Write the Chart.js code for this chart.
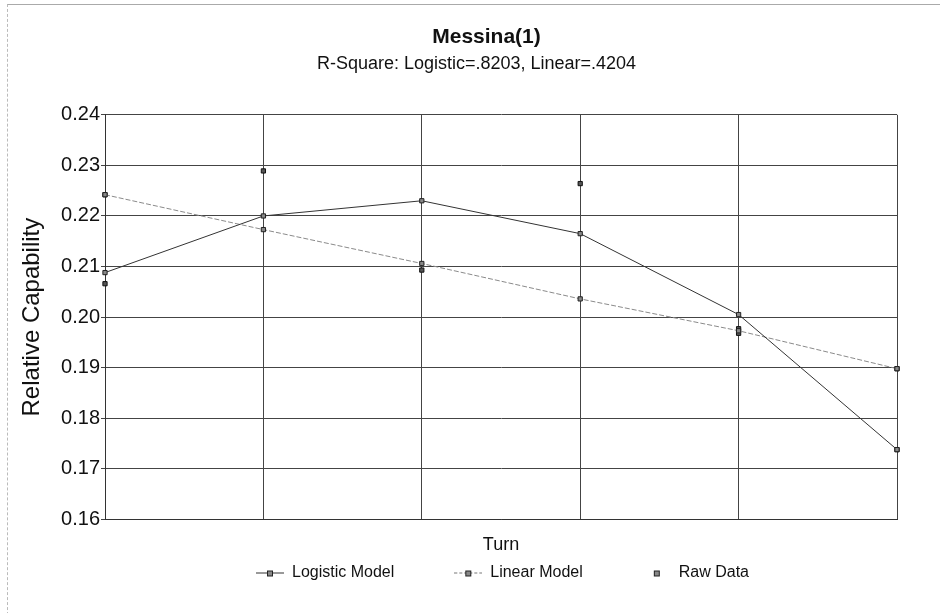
<!DOCTYPE html>
<html>
<head>
<meta charset="utf-8">
<script src="https://cdn.jsdelivr.net/npm/chart.js@4.4.1/dist/chart.umd.min.js"></script>
<style>
  html, body { margin: 0; padding: 0; background: #fff; }
  #wrap { position: relative; width: 940px; height: 613px; }
  #frame { position: absolute; left: 7px; top: 4px; width: 940px; height: 620px;
           border-left: 1px dashed #bbb; border-top: 1px solid #aaa; pointer-events: none; }
</style>
</head>
<body>
<div id="wrap">
  <canvas id="myChart" width="940" height="613"></canvas>
  <div id="frame"></div>
</div>
<script>
// turns on the x axis (no tick labels in the original)
var turns = ['1', '2', '3', '4', '5', '6'];

// fitted models
var logisticValues = [0.2088, 0.2200, 0.2230, 0.2165, 0.2005, 0.1738];
var linearValues = [0.2242, 0.2173, 0.2106, 0.2036, 0.1973, 0.1898];

// raw observations (several per turn)
var rawTurns = ['1', '1', '2', '3', '4', '5', '5', '6', '6'];
var rawValues = [0.2242, 0.2066, 0.2289, 0.2093, 0.2264, 0.1977, 0.1968, 0.1898, 0.1738];

var yTicks = [0.16, 0.17, 0.18, 0.19, 0.20, 0.21, 0.22, 0.23, 0.24];

var FONT = 'Liberation Sans, Arial, sans-serif';

// little legend glyphs: line with a square in the middle
function legendGlyph(lineColor, dash, showLine) {
  var c = document.createElement('canvas');
  c.width = 28;
  c.height = 9;
  var g = c.getContext('2d');
  if (showLine) {
    g.strokeStyle = lineColor;
    g.lineWidth = 1;
    g.setLineDash(dash);
    g.beginPath();
    g.moveTo(0, 4.5);
    g.lineTo(28, 4.5);
    g.stroke();
  }
  g.setLineDash([]);
  g.fillStyle = '#888';
  g.strokeStyle = '#222';
  g.fillRect(11.5, 2.5, 5, 5);
  g.strokeRect(11.5, 2.5, 5, 5);
  return c;
}

var rawPoints = rawTurns.map(function (t, i) {
  return { x: t, y: rawValues[i] };
});

// move legend and titles to where the original put them
var boxShift = {
  id: 'boxShift',
  afterLayout: function (chart) {
    var lg = chart.legend;
    if (lg) {
      lg.left += 54;
      lg.right += 54;
      lg.top -= 55;
    }
    chart.boxes.forEach(function (b) {
      if (b.position !== 'top' || !b.options || !b.options.text) return;
      var dx = (b === chart.titleBlock) ? 38 : 28;
      b.left += dx;
      b.right += dx;
    });
  }
};

var ctx = document.getElementById('myChart').getContext('2d');
var myChart = new Chart(ctx, {
  type: 'line',
  data: {
    labels: turns,
    datasets: [{
      label: 'Logistic Model',
      data: logisticValues,
      borderColor: '#333',
      borderWidth: 1,
      pointStyle: 'rect',
      pointRadius: 3,
      pointBackgroundColor: '#888',
      pointBorderColor: '#222',
      pointBorderWidth: 1,
      tension: 0,
      order: 1
    }, {
      label: 'Linear Model',
      data: linearValues,
      borderColor: '#8a8a8a',
      borderWidth: 1,
      borderDash: [5, 2],
      pointStyle: 'rect',
      pointRadius: 3,
      pointBackgroundColor: '#888',
      pointBorderColor: '#222',
      pointBorderWidth: 1,
      tension: 0,
      order: 2
    }, {
      label: 'Raw Data',
      data: rawPoints,
      showLine: false,
      pointStyle: 'rect',
      pointRadius: 3,
      pointBackgroundColor: '#555',
      pointBorderColor: '#111',
      pointBorderWidth: 1,
      order: 3
    }]
  },
  options: {
    responsive: false,
    animation: false,
    layout: { padding: { left: 0, right: 43, top: 0, bottom: 13 } },
    plugins: {
      title: {
        display: true,
        text: 'Messina(1)',
        color: '#111',
        font: { family: FONT, size: 21, weight: 'bold' },
        padding: { top: 25, bottom: 1 }
      },
      subtitle: {
        display: true,
        text: 'R-Square: Logistic=.8203, Linear=.4204',
        color: '#111',
        font: { family: FONT, size: 18 },
        padding: { top: 2, bottom: 40 }
      },
      legend: {
        position: 'bottom',
        maxHeight: 40,
        labels: {
          color: '#111',
          font: { family: FONT, size: 16 },
          usePointStyle: true,
          pointStyleWidth: 28,
          padding: 60,
          generateLabels: function (chart) {
            var glyphs = [
              legendGlyph('#333', [], true),
              legendGlyph('#777', [3, 2], true),
              legendGlyph('#777', [], false)
            ];
            return chart.data.datasets.map(function (ds, i) {
              return {
                text: ds.label,
                pointStyle: glyphs[i],
                fillStyle: '#888',
                strokeStyle: '#222',
                lineWidth: 0,
                fontColor: '#111',
                datasetIndex: i
              };
            });
          }
        }
      },
      tooltip: { enabled: false }
    },
    scales: {
      x: {
        type: 'category',
        offset: false,
        grid: { color: '#444', lineWidth: 1, tickLength: 0 },
        border: { color: '#333' },
        ticks: { display: false },
        title: {
          display: true,
          text: 'Turn',
          color: '#111',
          font: { family: FONT, size: 18 },
          padding: { top: 15, bottom: 4 }
        }
      },
      y: {
        min: 0.16,
        max: 0.24,
        afterBuildTicks: function (scale) {
          scale.ticks = yTicks.map(function (v) { return { value: v }; });
        },
        afterFit: function (scale) {
          scale.width = 105;
        },
        grid: { color: '#444', lineWidth: 1, tickLength: 4 },
        border: { color: '#333' },
        ticks: {
          color: '#111',
          padding: 1,
          font: { family: FONT, size: 20 },
          callback: function (v) { return Number(v).toFixed(2); }
        },
        title: {
          display: true,
          text: 'Relative Capability',
          color: '#111',
          font: { family: FONT, size: 24 },
          padding: { top: 18, bottom: 0 }
        }
      }
    }
  },
  plugins: [boxShift]
});
</script>
</body>
</html>
